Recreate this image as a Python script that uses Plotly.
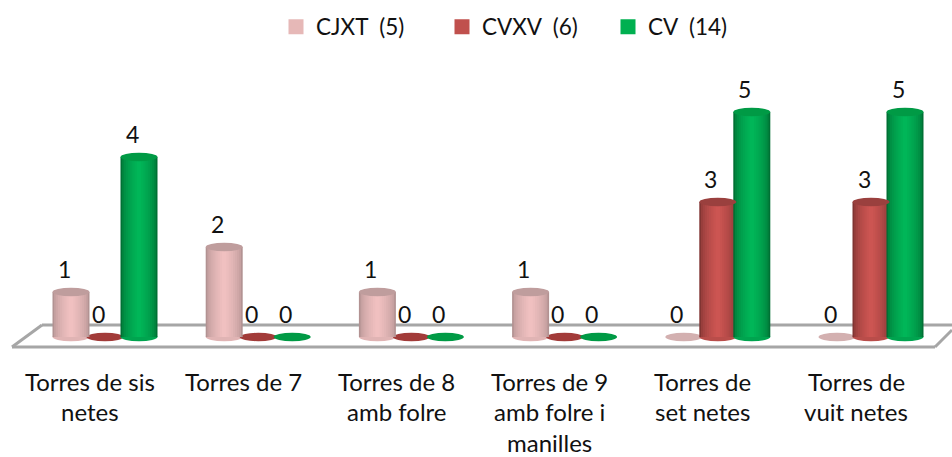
import plotly.graph_objects as go

# --- data ---
categories = ["Torres de sis<br>netes", "Torres de 7", "Torres de 8<br>amb folre",
              "Torres de 9<br>amb folre i<br>manilles", "Torres de<br>set netes", "Torres de<br>vuit netes"]
cjxt = [1, 2, 1, 1, 0, 0]
cvxv = [0, 0, 0, 0, 3, 3]
cv = [4, 0, 0, 0, 5, 5]
series_names = ["CJXT\u00a0\u00a0(5)", "CVXV\u00a0\u00a0(6)", "CV\u00a0\u00a0(14)"]

# --- style / layout constants ---
W, H = 952, 457
PX_PER_CAT, PX_PER_UNIT = 153.2, 45.0
CAT0_PX, BASE_PX = 105.0, 337.0
FONT = "Lato"
TXT = "#111111"
BAR_W = 37 / PX_PER_CAT
STEP = 34 / PX_PER_CAT
ELL_Y = 4.2 / PX_PER_UNIT
STYLES = [
    dict(edge=(178, 146, 146), mid=(240, 192, 192), top="#bf9d9d", zero="#d3b0b0", sw="#e6b8b7"),
    dict(edge=(128, 52, 50), mid=(204, 85, 82), top="#9a403e", zero="#a23b39", sw="#c0504d"),
    dict(edge=(0, 112, 52), mid=(0, 182, 88), top="#009a45", zero="#009a45", sw="#00b050"),
]
LEVELS = 9


def mix(a, b, t):
    return "rgb(%d,%d,%d)" % tuple(round(p + (q - p) * t) for p, q in zip(a, b))


def px_x(p):
    return p / W


def px_y(p):
    return 1 - p / H


fig = go.Figure()
xs = list(range(len(categories)))
shapes = []

# floor of the 3D chart
FLOOR = [((42, 325), (952, 325)), ((12, 347), (935, 347)), ((42, 325), (12, 347)), ((935, 347), (952, 330))]
for (x0, y0), (x1, y1) in FLOOR:
    shapes.append(dict(type="line", xref="paper", yref="paper", layer="below",
                       x0=px_x(x0), y0=px_y(y0), x1=px_x(x1), y1=px_y(y1),
                       line=dict(color="#a6a6a6", width=3)))

annotations = []
for s, (vals, st) in enumerate(zip([cjxt, cvxv, cv], STYLES)):
    pos = [x + (s - 1) * STEP for x in xs]
    # nested bars give the cylinder shading
    for lv in range(LEVELS):
        frac = 1 - (lv / LEVELS) ** 1.1
        fig.add_trace(go.Bar(x=pos, y=vals, width=BAR_W * frac, showlegend=False, hoverinfo="skip",
                             marker=dict(color=mix(st["edge"], st["mid"], (lv / (LEVELS - 1)) ** 0.55),
                                         line=dict(width=0))))
    for p, v in zip(pos, vals):
        if v > 0:
            shapes.append(dict(type="circle", xref="x", yref="y", layer="below",
                               x0=p - BAR_W / 2, x1=p + BAR_W / 2, y0=-ELL_Y, y1=ELL_Y,
                               fillcolor=mix(st["edge"], st["mid"], 0.75), line=dict(width=0)))
            shapes.append(dict(type="circle", xref="x", yref="y", layer="above",
                               x0=p - BAR_W / 2, x1=p + BAR_W / 2, y0=v - ELL_Y, y1=v + ELL_Y,
                               fillcolor=st["top"], line=dict(width=0)))
        else:
            shapes.append(dict(type="circle", xref="x", yref="y", layer="below",
                               x0=p - BAR_W / 2, x1=p + BAR_W / 2, y0=-ELL_Y, y1=ELL_Y,
                               fillcolor=st["zero"], line=dict(width=0)))
        annotations.append(dict(x=p, y=v, xref="x", yref="y", text=str(v), showarrow=False,
                                xshift=-7, yshift=23, yanchor="middle",
                                font=dict(family=FONT, size=23, color=TXT)))

# legend entries
for name, st in zip(series_names, STYLES):
    fig.add_trace(go.Scatter(x=[None], y=[None], mode="markers", name=name,
                             marker=dict(symbol="square", size=15, color=st["sw"])))

# category labels, one annotation per line to keep the wide line spacing
LINE_PX = 30.5
for x, label in zip(xs, categories):
    for i, line in enumerate(label.split("<br>")):
        annotations.append(dict(x=x, y=px_y(381 + i * LINE_PX), xref="x", yref="paper", text=line,
                                showarrow=False, xshift=-15, yanchor="middle",
                                font=dict(family=FONT, size=24, color=TXT)))

fig.update_layout(
    width=W, height=H, autosize=False,
    margin=dict(l=0, r=0, t=0, b=0),
    paper_bgcolor="white", plot_bgcolor="rgba(0,0,0,0)",
    barmode="overlay",
    xaxis=dict(range=[-CAT0_PX / PX_PER_CAT, (W - CAT0_PX) / PX_PER_CAT], visible=False, domain=[0, 1]),
    yaxis=dict(range=[-(H - BASE_PX) / PX_PER_UNIT, BASE_PX / PX_PER_UNIT], visible=False, domain=[0, 1]),
    shapes=shapes,
    annotations=annotations,
    legend=dict(orientation="h", x=px_x(276), y=px_y(27), xanchor="left", yanchor="middle",
                font=dict(family=FONT, size=22.5, color=TXT), bgcolor="rgba(0,0,0,0)",
                entrywidth=121, entrywidthmode="pixels", traceorder="normal"),
    showlegend=True,
)

fig.write_html("out.html", config={"displayModeBar": False},
               post_script="document.body.style.margin='0';")
